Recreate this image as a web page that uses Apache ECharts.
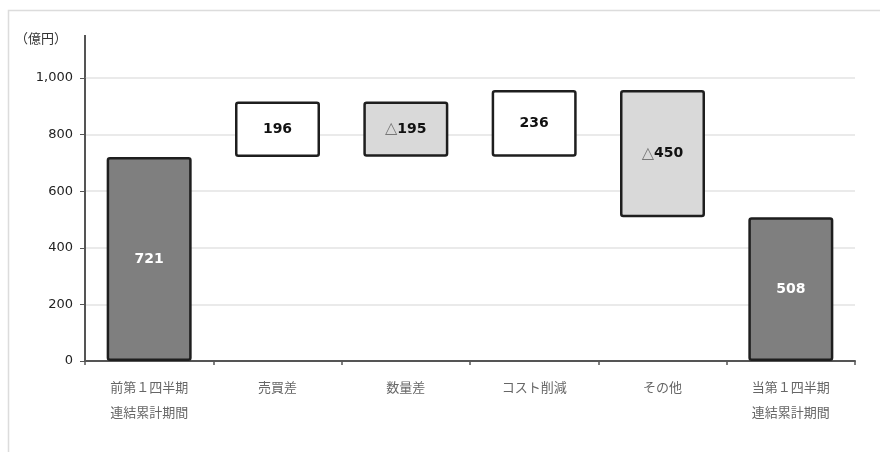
<!DOCTYPE html>
<html><head><meta charset="utf-8">
<script src="https://cdn.jsdelivr.net/npm/echarts@6/dist/echarts.min.js"></script>
<style>html,body{margin:0;padding:0;background:#fff}#c{width:880px;height:452px}</style>
</head><body><div id="c"></div>
<script>
const categories = ['前第１四半期\n連結累計期間', '売買差', '数量差', 'コスト削減', 'その他', '当第１四半期\n連結累計期間'];
const changes = [721, 196, -195, 236, -450, 508];
const kinds = ['total', 'up', 'down', 'up', 'down', 'total'];
const yTicks = [0, 200, 400, 600, 800, 1000];

const fillColors = {total: '#7f7f7f', up: '#ffffff', down: '#d9d9d9'};
const base = [], height = [];
let cum = 0;
changes.forEach((v, i) => {
  if (kinds[i] === 'total') { base.push(0); height.push(v); cum = v; }
  else if (v >= 0) { base.push(cum); height.push(v); cum += v; }
  else { cum += v; base.push(cum); height.push(-v); }
});

const chart = echarts.init(document.getElementById('c'));
const numFont = 'DejaVu Sans';
chart.setOption({
  animation: false,
  backgroundColor: '#fff',
  graphic: [
    {type: 'rect', shape: {x: 8.5, y: 10.5, width: 880, height: 460}, style: {fill: 'none', stroke: '#dcdcdc', lineWidth: 1.5}, silent: true},
    {type: 'line', shape: {x1: 85, y1: 35, x2: 85, y2: 78}, style: {stroke: '#555', lineWidth: 2}, silent: true},
    {type: 'text', left: 15, top: 32, style: {text: '（億円）', font: '13px "Noto Sans CJK JP"', fill: '#333'}, silent: true}
  ],
  grid: {left: 85, right: 25, top: 78, bottom: 91},
  xAxis: {
    type: 'category', data: categories,
    axisLine: {lineStyle: {color: '#555', width: 2}},
    axisTick: {show: true, length: 4, lineStyle: {color: '#555', width: 1.5}},
    axisLabel: {color: '#666', fontSize: 13, fontFamily: 'Noto Sans CJK JP', margin: 14, lineHeight: 25}
  },
  yAxis: {
    type: 'value', min: 0, max: 1000, interval: 200,
    axisLine: {show: true, lineStyle: {color: '#555', width: 2}},
    axisTick: {show: true, length: 5, lineStyle: {color: '#555'}},
    axisLabel: {color: '#222', fontSize: 13, fontFamily: numFont, margin: 12,
      formatter: v => v.toLocaleString('en-US')},
    splitLine: {lineStyle: {color: '#e3e3e3', width: 1.5}}
  },
  series: [
    {type: 'bar', stack: 'w', data: base, barWidth: 85, itemStyle: {color: 'transparent'}, silent: true},
    {type: 'bar', stack: 'w', barWidth: 85,
      data: height.map((h, i) => ({
        value: h,
        itemStyle: {color: fillColors[kinds[i]], borderColor: '#1e1e1e', borderWidth: 2.5, borderRadius: 2},
        label: {color: kinds[i] === 'total' ? '#fff' : '#111'}
      })),
      label: {
        show: true, position: 'inside',
        formatter: p => {
          const v = changes[p.dataIndex];
          return v < 0 ? '{tri|△}{num|' + (-v) + '}' : '{num|' + v + '}';
        },
        rich: {
          tri: {color: '#777', fontSize: 16, fontFamily: 'DejaVu Sans'},
          num: {fontSize: 14, fontWeight: 'bold', fontFamily: numFont}
        }
      }
    }
  ]
});
</script></body></html>
